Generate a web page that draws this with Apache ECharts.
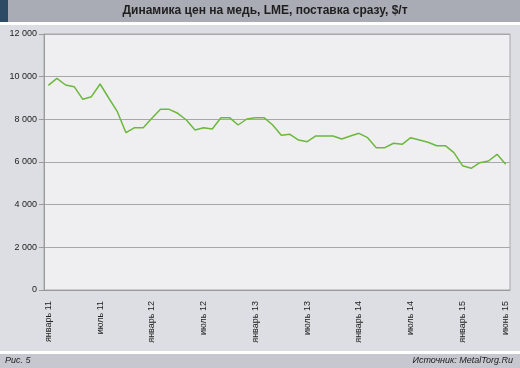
<!DOCTYPE html>
<html>
<head>
<meta charset="utf-8">
<script src="https://cdn.jsdelivr.net/npm/echarts@6/dist/echarts.min.js"></script>
<style>html,body{margin:0;padding:0;background:#dddee3;}#c{width:520px;height:368px;}</style>
</head>
<body>
<div id="c"></div>
<script>
var monthNames = ['январь','февраль','март','апрель','май','июнь','июль','август','сентябрь','октябрь','ноябрь','декабрь'];
var years = ['11','12','13','14','15'];
var categories = [];
for (var y = 0; y < years.length; y++) {
  for (var m = 0; m < 12; m++) {
    if (y === 4 && m > 5) break;
    categories.push(monthNames[m] + ' ' + years[y]);
  }
}
var labeledCategories = ['январь 11','июль 11','январь 12','июль 12','январь 13','июль 13','январь 14','июль 14','январь 15','июнь 15'];
var copperPrice = [
  9595, 9923, 9609, 9530, 8939, 9061, 9656, 9000, 8358, 7373, 7608, 7608,
  8048, 8470, 8470, 8283, 7969, 7500, 7608, 7547, 8077, 8077, 7734, 8016,
  8077, 8077, 7734, 7250, 7298, 7031, 6952, 7219, 7219, 7219, 7078, 7219,
  7345, 7139, 6670, 6670, 6877, 6830, 7139, 7031, 6923, 6764, 6764, 6436,
  5827, 5705, 5967, 6047, 6361, 5892
];
var yTicks = [0, 2000, 4000, 6000, 8000, 10000, 12000];

var chart = echarts.init(document.getElementById('c'), null, {renderer: 'canvas'});
var font = '"Liberation Sans", Arial, Helvetica, sans-serif';
chart.setOption({
  backgroundColor: '#dddee3',
  animation: false,
  textStyle: {fontFamily: font},
  title: {
    text: 'Динамика цен на медь, LME, поставка сразу, $/т',
    left: 265, top: 5, padding: 0, textAlign: 'center',
    textStyle: {fontSize: 12, fontWeight: 'bold', color: '#1e1e1e', fontFamily: font}
  },
  graphic: [
    {type: 'rect', z: -10, shape: {x: 0, y: 0, width: 520, height: 22}, style: {fill: '#a9abb5'}},
    {type: 'rect', z: -10, shape: {x: 0, y: 0, width: 8, height: 22}, style: {fill: '#2e4b66'}},
    {type: 'rect', z: -10, shape: {x: 0, y: 22, width: 520, height: 3}, style: {fill: '#ffffff'}},
    {type: 'rect', z: -10, shape: {x: 0, y: 351, width: 520, height: 3}, style: {fill: '#ffffff'}},
    {type: 'rect', z: -10, shape: {x: 0, y: 354, width: 520, height: 14}, style: {fill: '#c6c7cf'}},
    {type: 'text', left: 5, top: 356, style: {text: 'Рис. 5', fontSize: 9, fontStyle: 'italic', fill: '#222', fontFamily: font}},
    {type: 'text', right: 7, top: 356, style: {text: 'Источник: MetalTorg.Ru', fontSize: 9, fontStyle: 'italic', fill: '#222', fontFamily: font}}
  ],
  grid: {left: 44, right: 10, top: 34, bottom: 78, show: true, backgroundColor: '#efeff2', borderColor: '#a8a8a8', borderWidth: 1},
  xAxis: {
    type: 'category',
    data: categories,
    boundaryGap: true,
    axisLine: {lineStyle: {color: '#9a9a9a'}},
    axisTick: {length: 5, lineStyle: {color: '#9a9a9a'}, interval: function (i) { return i % 6 === 0; }},
    axisLabel: {
      rotate: 90, fontSize: 9, color: '#222', margin: 11, fontFamily: font,
      interval: function (i, v) { return labeledCategories.indexOf(v) >= 0; }
    },
    splitLine: {show: false}
  },
  yAxis: {
    type: 'value',
    min: yTicks[0], max: yTicks[yTicks.length - 1], interval: 2000,
    axisLine: {show: true, lineStyle: {color: '#9a9a9a'}},
    axisTick: {show: true, length: 5, lineStyle: {color: '#9a9a9a'}},
    axisLabel: {fontSize: 9, color: '#222', margin: 7, fontFamily: font,
      formatter: function (v) { return String(v).replace(/\B(?=(\d{3})+(?!\d))/g, ' '); }},
    splitLine: {lineStyle: {color: '#a8a8a8', width: 1}}
  },
  series: [{
    type: 'line',
    data: copperPrice,
    symbol: 'none',
    lineStyle: {color: '#6cb83c', width: 1.5},
    itemStyle: {color: '#6cb83c'}
  }]
});
</script>
</body>
</html>
